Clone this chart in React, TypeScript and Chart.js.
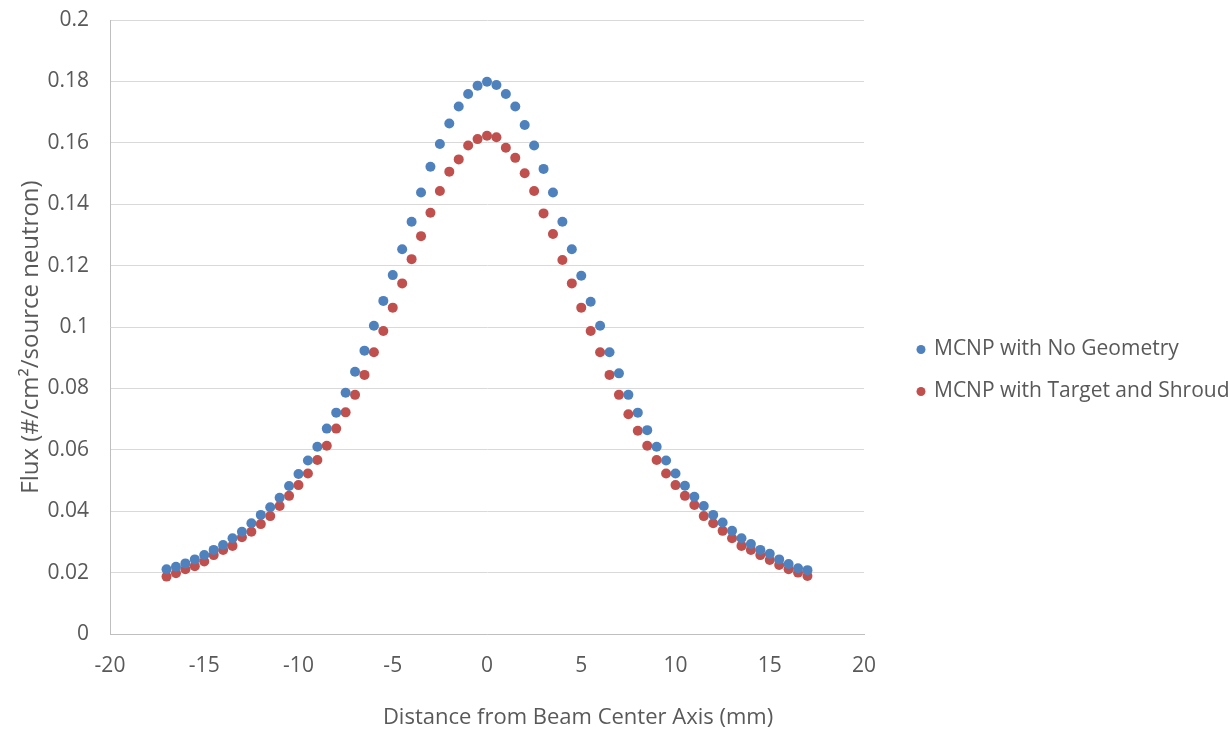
import React, { useEffect, useRef } from "react";
import { Chart, registerables } from "chart.js";

Chart.register(...registerables);

const xValues = [
  -17, -16.5, -16, -15.5, -15, -14.5, -14, -13.5, -13, -12.5, -12, -11.5, -11, -10.5, -10, -9.5, -9, -8.5, -8, -7.5,
  -7, -6.5, -6, -5.5, -5, -4.5, -4, -3.5, -3, -2.5, -2, -1.5, -1, -0.5, 0, 0.5, 1, 1.5, 2, 2.5, 3, 3.5, 4, 4.5, 5,
  5.5, 6, 6.5, 7, 7.5, 8, 8.5, 9, 9.5, 10, 10.5, 11, 11.5, 12, 12.5, 13, 13.5, 14, 14.5, 15, 15.5, 16, 16.5, 17,
];

const noGeometry = [
  0.0211, 0.0219, 0.023, 0.0243, 0.0257, 0.0274, 0.029, 0.0312, 0.0333, 0.0361, 0.0388, 0.0413, 0.0444, 0.0482,
  0.0521, 0.0565, 0.061, 0.0669, 0.0721, 0.0786, 0.0854, 0.0923, 0.1004, 0.1085, 0.1169, 0.1253, 0.1343, 0.1438,
  0.1522, 0.1596, 0.1663, 0.1718, 0.1759, 0.1786, 0.1799, 0.1788, 0.1759, 0.1718, 0.1658, 0.1591, 0.1515, 0.1438,
  0.1343, 0.1253, 0.1167, 0.1082, 0.1004, 0.0918, 0.0849, 0.0779, 0.0721, 0.0664, 0.061, 0.0565, 0.0523, 0.0483,
  0.0447, 0.0417, 0.0388, 0.0363, 0.0336, 0.0312, 0.0293, 0.0274, 0.0261, 0.0243, 0.0228, 0.0214, 0.0208,
];

const targetShroud = [
  0.0187, 0.0198, 0.0211, 0.0221, 0.0236, 0.0257, 0.0274, 0.0287, 0.0315, 0.0333, 0.0358, 0.0384, 0.0417, 0.045,
  0.0485, 0.0523, 0.0567, 0.0613, 0.0669, 0.0722, 0.0779, 0.0844, 0.0918, 0.0987, 0.1063, 0.1142, 0.1221, 0.1296,
  0.1372, 0.1443, 0.1506, 0.1546, 0.1591, 0.1612, 0.1623, 0.1618, 0.1584, 0.1551, 0.1501, 0.1443, 0.137, 0.1303,
  0.1218, 0.1142, 0.1063, 0.0987, 0.0918, 0.0844, 0.0779, 0.0716, 0.0662, 0.0613, 0.0567, 0.0523, 0.0485, 0.045,
  0.042, 0.0384, 0.0361, 0.0336, 0.0312, 0.0287, 0.0274, 0.0257, 0.0241, 0.0225, 0.0211, 0.02, 0.0189,
];

const seriesNames = ["MCNP with No Geometry", "MCNP with Target and Shroud"];
const seriesColors = ["#4F81BD", "#C0504D"];
const xTitle = "Distance from Beam Center Axis (mm)";
const yTitle = "Flux (#/cm\u00B2/source neutron)";

const FONT = "'Open Sans', sans-serif";
const TEXT_COLOR = "#595959";

const customPlugin = {
  id: "customText",
  afterDraw(chart: any) {
    const ctx = chart.ctx;
    const area = chart.chartArea;
    ctx.save();
    ctx.fillStyle = TEXT_COLOR;
    ctx.textBaseline = "middle";
    // x axis title
    ctx.font = `22px ${FONT}`;
    ctx.textAlign = "center";
    ctx.fillText(xTitle, (area.left + area.right) / 2 + 91, chart.height - 11);
    // y axis title
    ctx.save();
    ctx.translate(31, (area.top + area.bottom) / 2 + 10);
    ctx.rotate(-Math.PI / 2);
    ctx.font = `24px ${FONT}`;
    ctx.fillText(yTitle, 0, 0);
    ctx.restore();
    // legend
    const cy = chart.height / 2 + 6;
    chart.data.datasets.forEach((ds: any, i: number) => {
      const y = cy + (i === 0 ? -21 : 21);
      ctx.beginPath();
      ctx.fillStyle = ds.backgroundColor;
      ctx.arc(area.right + 57, y, 4.5, 0, Math.PI * 2);
      ctx.fill();
      ctx.fillStyle = TEXT_COLOR;
      ctx.textAlign = "left";
      ctx.font = `21px ${FONT}`;
      ctx.fillText(ds.label, area.right + 70, y);
    });
    ctx.restore();
  },
};

export default function App() {
  const canvasRef = useRef<HTMLCanvasElement | null>(null);

  useEffect(() => {
    if (!canvasRef.current) return;
    const chart = new Chart(canvasRef.current, {
      type: "scatter",
      data: {
        datasets: [noGeometry, targetShroud].map((vals, si) => ({
          label: seriesNames[si],
          data: xValues.map((x, i) => ({ x, y: vals[i] })),
          backgroundColor: seriesColors[si],
          borderColor: seriesColors[si],
          pointRadius: 5,
          pointBorderWidth: 0,
          showLine: false,
        })),
      },
      options: {
        animation: false,
        responsive: true,
        maintainAspectRatio: false,
        layout: { padding: { left: 0, right: 365, top: 20, bottom: 0 } },
        plugins: {
          legend: { display: false },
          tooltip: { enabled: false },
        },
        scales: {
          x: {
            type: "linear",
            min: -20,
            max: 20,
            ticks: {
              stepSize: 5,
              color: TEXT_COLOR,
              font: { family: FONT, size: 21 },
              padding: 19,
            },
            grid: { display: false, drawTicks: false },
            border: { display: true, color: "#BFBFBF", width: 1 },
            afterFit: (scale: any) => {
              scale.height = 95;
              scale.paddingLeft = 0;
              scale.paddingRight = 0;
            },
          },
          y: {
            type: "linear",
            min: 0,
            max: 0.2,
            ticks: {
              stepSize: 0.02,
              color: TEXT_COLOR,
              font: { family: FONT, size: 21 },
              padding: 21,
              callback: (v: any) => String(+Number(v).toFixed(2)),
            },
            grid: { color: "#D9D9D9", lineWidth: 1, drawTicks: false },
            border: { display: true, color: "#BFBFBF", width: 1 },
            afterFit: (scale: any) => {
              scale.width = 110;
              scale.paddingTop = 0;
              scale.paddingBottom = 0;
            },
          },
        },
      },
      plugins: [customPlugin],
    });
    return () => chart.destroy();
  }, []);

  return (
    <div style={{ position: "absolute", left: 0, top: 0, width: 1229, height: 729, background: "#fff" }}>
      <canvas ref={canvasRef} />
    </div>
  );
}
